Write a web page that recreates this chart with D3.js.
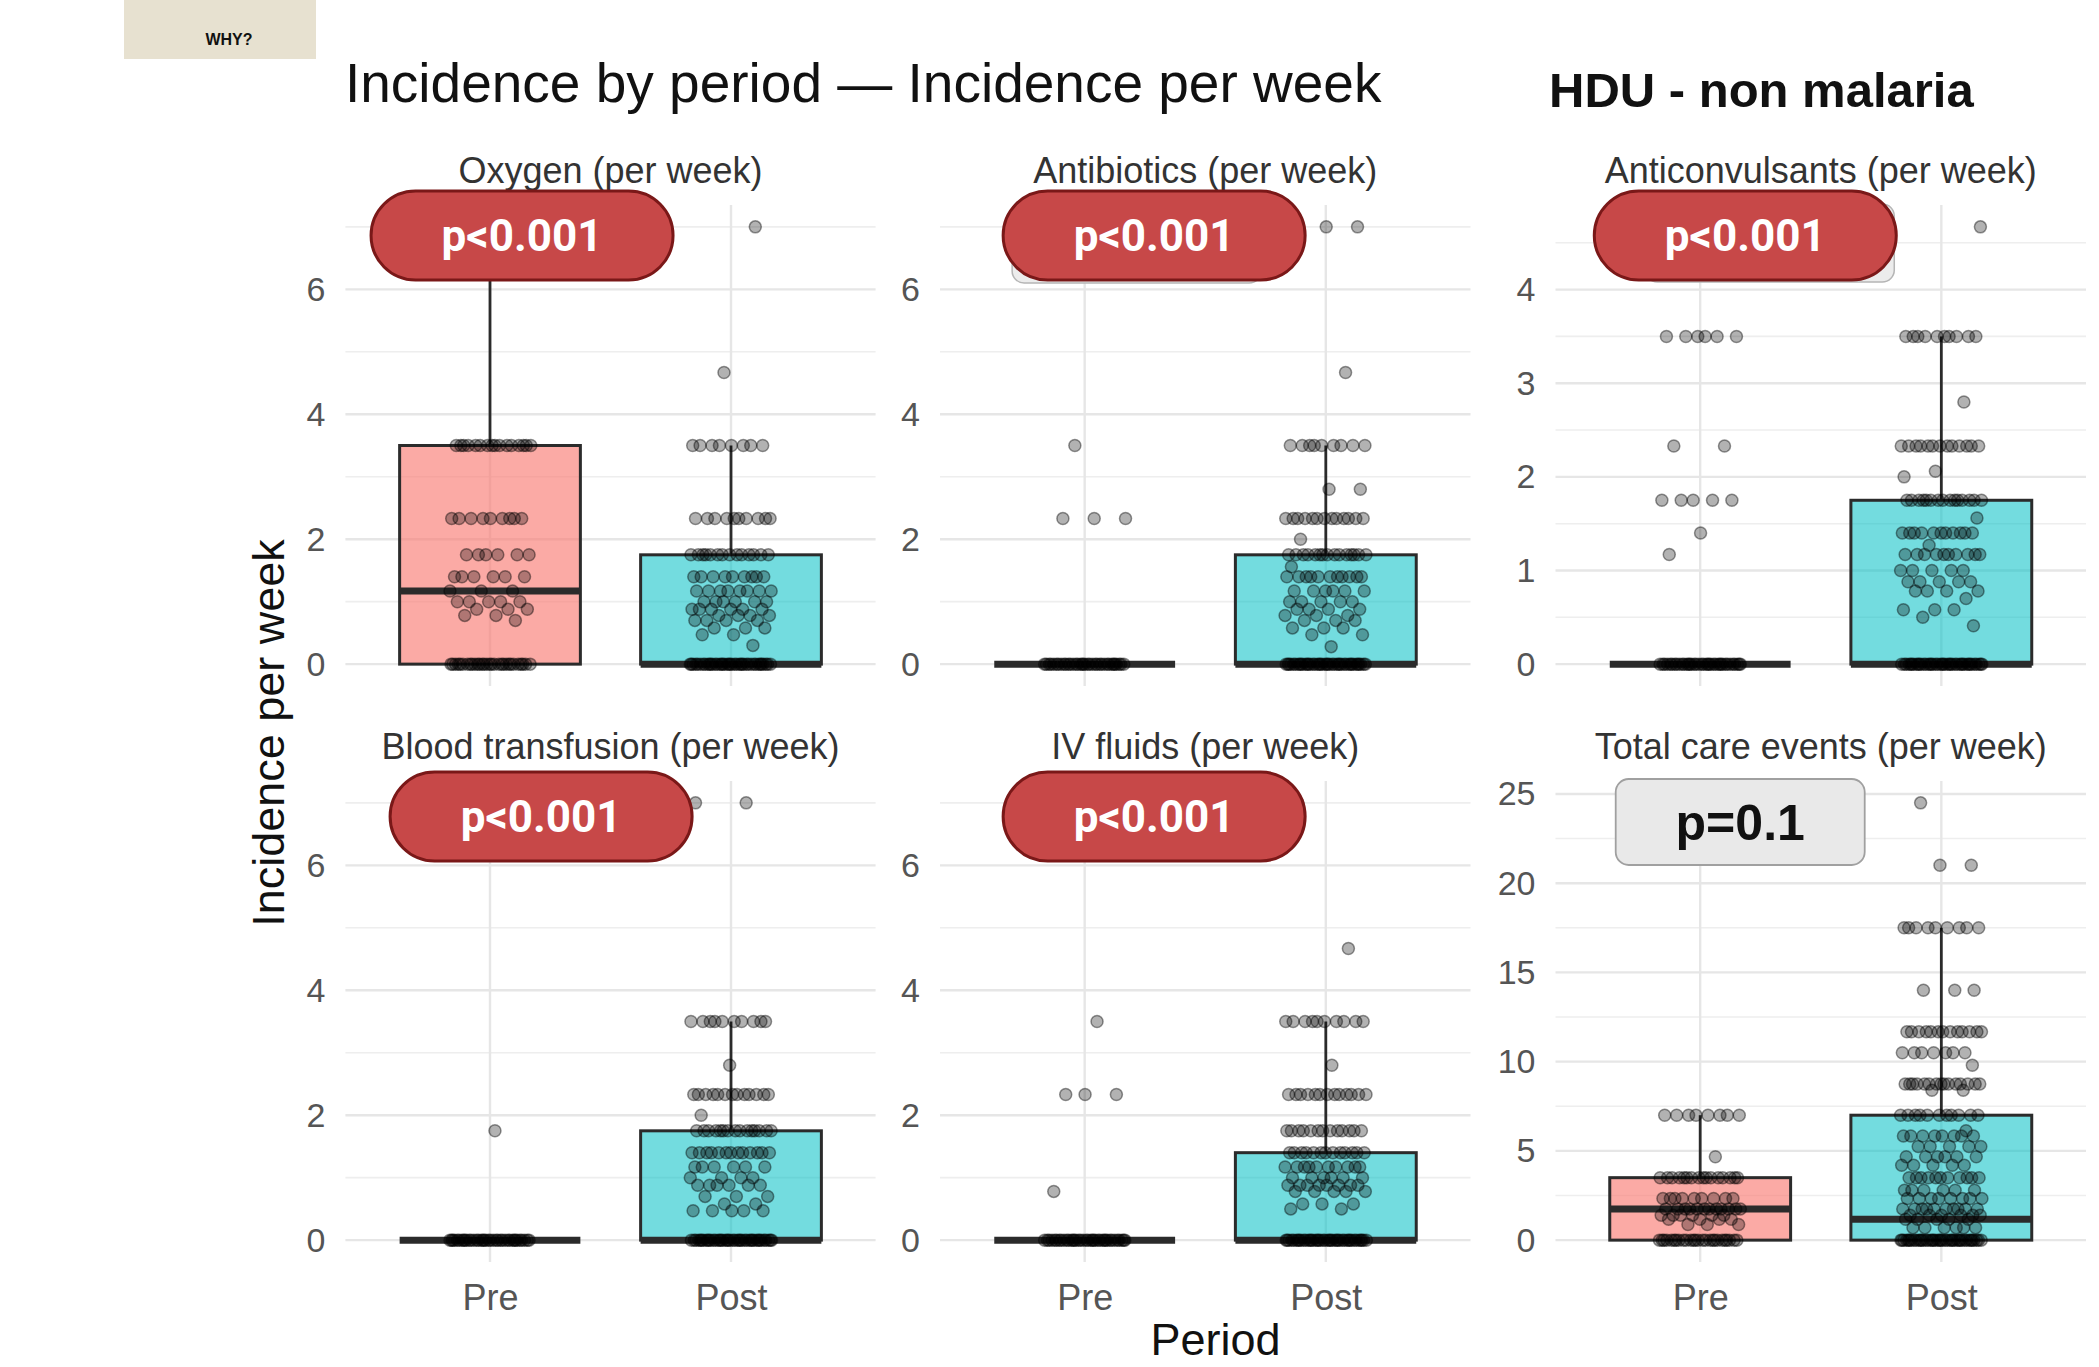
<!DOCTYPE html>
<html>
<head>
<meta charset="utf-8">
<script src="https://cdn.jsdelivr.net/npm/d3@7"></script>
<style>
  body { margin: 0; background: #fff; }
  svg { display: block; }
</style>
</head>
<body>
<svg id="chart" width="2099" height="1367"></svg>
<script>
// ---------- text ----------
const buttonLabel = "WHY?";
const chartTitle = "Incidence by period \u2014 Incidence per week";
const subsetTitle = "HDU - non malaria";
const xTitle = "Period";
const yTitle = "Incidence per week";

// ---------- data ----------
const periods = ["Pre", "Post"];
const measures = [
  "Oxygen (per week)", "Antibiotics (per week)", "Anticonvulsants (per week)",
  "Blood transfusion (per week)", "IV fluids (per week)", "Total care events (per week)"
];
const yMax = [7, 7, 4.67, 7, 7, 24.5];
const yTickValues = [
  [0, 2, 4, 6], [0, 2, 4, 6], [0, 1, 2, 3, 4],
  [0, 2, 4, 6], [0, 2, 4, 6], [0, 5, 10, 15, 20, 25]
];
// box summaries: [lower whisker, q1, median, q3, upper whisker]
const preBoxes = [
  [0, 0, 1.17, 3.5, 7], [0, 0, 0, 0, 0], [0, 0, 0, 0, 0],
  [0, 0, 0, 0, 0], [0, 0, 0, 0, 0], [0, 0, 1.75, 3.5, 7]
];
const postBoxes = [
  [0, 0, 0, 1.75, 3.5], [0, 0, 0, 1.75, 3.5], [0, 0, 0, 1.75, 3.5],
  [0, 0, 0, 1.75, 3.5], [0, 0, 0, 1.4, 3.5], [0, 0, 1.17, 7, 17.5]
];
// weekly observations as [value, number of weeks]
const prePoints = [
  [[7,1],[3.5,16],[2.33,9],[1.75,6],[1.4,6],[1.17,3],[1,5],[0.88,3],[0.78,2],[0.7,1],[0,30]],
  [[3.5,1],[2.33,3],[0,36]],
  [[3.5,6],[2.33,2],[1.75,5],[1.4,1],[1.17,1],[0,38]],
  [[1.75,1],[0,38]],
  [[3.5,1],[2.33,3],[0.78,1],[0,38]],
  [[7,8],[4.67,1],[3.5,16],[2.33,9],[1.75,12],[1.4,6],[1.17,4],[0.88,3],[0,26]]
];
const postPoints = [
  [[7,1],[4.67,1],[3.5,8],[2.33,10],[1.75,14],[1.4,9],[1.17,8],[1,6],[0.88,6],[0.78,4],[0.7,4],[0.58,3],[0.47,2],[0.3,1],[0,40]],
  [[7,3],[4.67,1],[3.5,9],[2.8,2],[2.33,13],[2,1],[1.75,15],[1.56,1],[1.4,11],[1.17,6],[1,5],[0.88,4],[0.78,3],[0.7,3],[0.58,3],[0.47,2],[0.28,1],[0,42]],
  [[4.67,1],[3.5,10],[2.8,1],[2.33,13],[2.06,1],[2,1],[1.75,15],[1.56,1],[1.4,11],[1.27,1],[1.17,10],[1,5],[0.88,5],[0.78,4],[0.7,1],[0.58,3],[0.5,1],[0.41,1],[0,42]],
  [[7,2],[3.5,10],[2.8,1],[2.33,13],[2,1],[1.75,15],[1.4,13],[1.17,6],[1,4],[0.88,6],[0.7,3],[0.58,2],[0.47,5],[0,42]],
  [[7,1],[4.67,1],[3.5,10],[2.8,1],[2.33,13],[1.75,13],[1.4,13],[1.17,10],[1,6],[0.88,8],[0.78,5],[0.58,3],[0.5,2],[0,42]],
  [[24.5,1],[21,2],[17.5,9],[14,3],[11.67,13],[10.5,7],[9.8,1],[8.75,15],[8.4,2],[7,11],[6.13,1],[5.83,8],[5.25,5],[4.67,6],[4.2,5],[3.5,11],[2.8,6],[2.33,8],[1.75,10],[1.4,6],[1.17,5],[0.7,6],[0,42]]
];
const pValues = ["p<0.001", "p<0.001", "p<0.001", "p<0.001", "p<0.001", "p=0.1"];

// ---------- layout ----------
const FONT = "'Liberation Sans', Arial, Helvetica, sans-serif";
const layout = {
  cols: [[345.4, 875.6], [940, 1470.5], [1555.5, 2086]],
  rows: [[205, 686], [781, 1262]],
  boxWidth: 0.75,      // in category steps
  jitterWidth: 0.17,   // half-width, in category steps
  pointRadius: 6,
  // p-value badge: centre offset from the Pre position (steps) and from the panel top (px)
  badges: [
    { dx: 0.133, dy: 30.5 },
    { dx: 0.288, dy: 30.5, backing: [9, 9, 249, 83] },
    { dx: 0.187, dy: 30.5, backing: [51, 13, 249, 78] },
    { dx: 0.212, dy: 35.5 },
    { dx: 0.288, dy: 35.5 },
    { dx: 0.166, dy: 41 }
  ]
};
const fills = { Pre: "#F8766D", Post: "#00BFC4" };
const fillOpacity = { Pre: 0.62, Post: 0.55 };

const svg = d3.select("#chart");

// header
svg.append("rect").attr("x", 124).attr("y", 0).attr("width", 192).attr("height", 59)
  .attr("fill", "#e7e1d0");
svg.append("text").attr("x", 229).attr("y", 45).attr("text-anchor", "middle")
  .attr("font-family", FONT).attr("font-weight", "bold").attr("font-size", 16)
  .attr("fill", "#111").text(buttonLabel);
svg.append("text").attr("x", 345).attr("y", 102)
  .attr("font-family", FONT).attr("font-size", 55).attr("fill", "#111").text(chartTitle);
svg.append("text").attr("x", 1549).attr("y", 107)
  .attr("font-family", FONT).attr("font-weight", "bold").attr("font-size", 49)
  .attr("fill", "#111").text(subsetTitle);

// deterministic horizontal spread for overlapping weekly values
function spread(idx) {
  return ((idx * 0.618034 + 0.29) % 1) * 2 - 1;
}

measures.forEach((title, i) => {
  const col = i % 3, row = Math.floor(i / 3);
  const [x0, x1] = layout.cols[col];
  const [yTop, yBot] = layout.rows[row];
  const x = d3.scalePoint().domain(periods).range([x0, x1]).padding(0.6);
  const step = x.step();
  const pad = yMax[i] * 0.05;
  const y = d3.scaleLinear().domain([-pad, yMax[i] + pad]).range([yBot, yTop]);
  const g = svg.append("g");

  // grid
  const ticks = yTickValues[i];
  const tstep = ticks[1] - ticks[0];
  const minor = ticks.map(t => t + tstep / 2).filter(v => v <= y.domain()[1]);
  g.append("g").selectAll("line").data(minor).join("line")
    .attr("x1", x0).attr("x2", x1).attr("y1", d => y(d)).attr("y2", d => y(d))
    .attr("stroke", "#eeeeee").attr("stroke-width", 1.6);
  g.append("g").selectAll("line").data(ticks).join("line")
    .attr("x1", x0).attr("x2", x1).attr("y1", d => y(d)).attr("y2", d => y(d))
    .attr("stroke", "#e6e6e6").attr("stroke-width", 2.4);
  g.append("g").selectAll("line").data(periods).join("line")
    .attr("x1", d => x(d)).attr("x2", d => x(d)).attr("y1", yTop).attr("y2", yBot)
    .attr("stroke", "#e6e6e6").attr("stroke-width", 2.4);

  // y axis labels
  const yAxis = g.append("g").attr("transform", `translate(${x0},0)`)
    .call(d3.axisLeft(y).tickValues(ticks).tickSize(0).tickPadding(20).tickFormat(d3.format("d")));
  yAxis.select(".domain").remove();
  yAxis.attr("font-family", FONT).attr("font-size", 34).attr("color", "#555");

  // x axis labels on the bottom row
  if (row === 1) {
    const xAxis = g.append("g").attr("transform", `translate(0,${yBot})`)
      .call(d3.axisBottom(x).tickSize(0).tickPadding(22));
    xAxis.select(".domain").remove();
    xAxis.attr("font-family", FONT).attr("font-size", 36).attr("color", "#555");
  }

  // panel title
  g.append("text").attr("x", (x0 + x1) / 2).attr("y", row === 0 ? 183 : 759)
    .attr("text-anchor", "middle").attr("font-family", FONT).attr("font-size", 36)
    .attr("fill", "#333").text(title);

  // boxes
  const boxes = [
    { period: "Pre", s: preBoxes[i], pts: prePoints[i] },
    { period: "Post", s: postBoxes[i], pts: postPoints[i] }
  ];
  const bw = layout.boxWidth * step;
  boxes.forEach(b => {
    const [lo, q1, med, q3, hi] = b.s;
    const cx = x(b.period);
    if (hi > q3) g.append("line").attr("x1", cx).attr("x2", cx).attr("y1", y(q3)).attr("y2", y(hi))
      .attr("stroke", "#2b2b2b").attr("stroke-width", 2.8);
    if (lo < q1) g.append("line").attr("x1", cx).attr("x2", cx).attr("y1", y(q1)).attr("y2", y(lo))
      .attr("stroke", "#2b2b2b").attr("stroke-width", 2.8);
    g.append("rect").attr("x", cx - bw / 2).attr("width", bw)
      .attr("y", y(q3)).attr("height", Math.max(0, y(q1) - y(q3)))
      .attr("fill", fills[b.period]).attr("fill-opacity", fillOpacity[b.period])
      .attr("stroke", "#2b2b2b").attr("stroke-width", 3);
    g.append("line").attr("x1", cx - bw / 2).attr("x2", cx + bw / 2)
      .attr("y1", y(med)).attr("y2", y(med))
      .attr("stroke", "#2b2b2b").attr("stroke-width", 7);
  });

  // jittered weekly points
  boxes.forEach((b, bi) => {
    const cx = x(b.period);
    let idx = bi * 17 + i * 5;
    const pts = [];
    b.pts.forEach(([v, n]) => {
      for (let k = 0; k < n; k++) { pts.push({ v, off: spread(idx) }); idx++; }
    });
    g.append("g").selectAll("circle").data(pts).join("circle")
      .attr("cx", d => cx + d.off * layout.jitterWidth * step)
      .attr("cy", d => y(d.v))
      .attr("r", layout.pointRadius)
      .attr("fill", "#000").attr("fill-opacity", 0.3)
      .attr("stroke", "#000").attr("stroke-opacity", 0.42).attr("stroke-width", 1.5);
  });

  // p-value badge
  const bl = layout.badges[i];
  const bcx = x("Pre") + bl.dx * step;
  const bcy = yTop + bl.dy;
  const sig = pValues[i] !== "p=0.1";
  if (sig) {
    const w = 302, h = 89;
    if (bl.backing) {
      const [ox, oy, bw2, bh2] = bl.backing;
      g.append("rect").attr("x", bcx - w / 2 + ox).attr("y", bcy - h / 2 + oy)
        .attr("width", bw2).attr("height", bh2).attr("rx", 12)
        .attr("fill", "#ececec").attr("stroke", "#b5b5b5").attr("stroke-width", 1.5);
    }
    g.append("rect").attr("x", bcx - w / 2).attr("y", bcy - h / 2)
      .attr("width", w).attr("height", h).attr("rx", h / 2)
      .attr("fill", "#c74848").attr("stroke", "#7a1818").attr("stroke-width", 3);
    g.append("text").attr("x", bcx).attr("y", bcy).attr("dy", "0.36em")
      .attr("text-anchor", "middle").attr("font-family", "Roboto, 'Liberation Sans', sans-serif")
      .attr("font-weight", "bold").attr("font-size", 44).attr("fill", "#fff").text(pValues[i]);
  } else {
    const w = 249, h = 86;
    g.append("rect").attr("x", bcx - w / 2).attr("y", bcy - h / 2)
      .attr("width", w).attr("height", h).attr("rx", 13)
      .attr("fill", "#e9e9e9").attr("stroke", "#a0a0a0").attr("stroke-width", 1.8);
    g.append("text").attr("x", bcx).attr("y", bcy).attr("dy", "0.36em")
      .attr("text-anchor", "middle").attr("font-family", FONT)
      .attr("font-weight", "bold").attr("font-size", 50).attr("fill", "#111").text(pValues[i]);
  }
});

// axis titles
svg.append("text").attr("x", 1215.5).attr("y", 1355).attr("text-anchor", "middle")
  .attr("font-family", FONT).attr("font-size", 45).attr("fill", "#111").text(xTitle);
svg.append("text").attr("transform", "translate(284,733) rotate(-90)").attr("text-anchor", "middle")
  .attr("font-family", FONT).attr("font-size", 45).attr("fill", "#111").text(yTitle);
</script>
</body>
</html>
